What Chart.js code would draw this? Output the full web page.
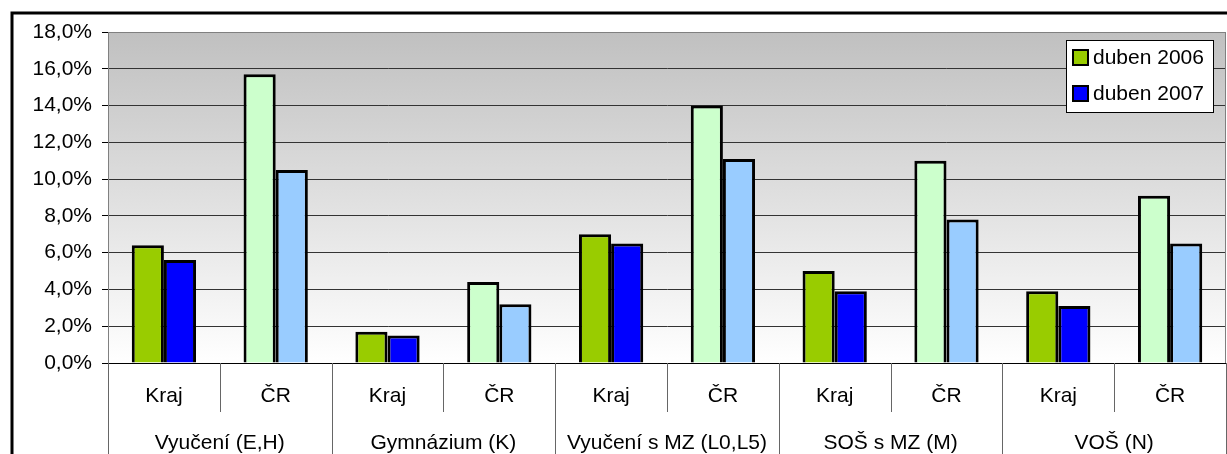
<!DOCTYPE html>
<html lang="cs">
<head>
    <meta charset="UTF-8">
    <title>Podíl nezaměstnaných absolventů</title>
    <script src="https://cdn.jsdelivr.net/npm/chart.js"></script>
    <style>
        body { margin: 0; background: #fff; }
    </style>
</head>
<body>
<canvas id="graf" width="1227" height="454"></canvas>

<script>
    // data (v %)
    const podkategorie = ['Kraj', 'ČR', 'Kraj', 'ČR', 'Kraj', 'ČR', 'Kraj', 'ČR', 'Kraj', 'ČR'];
    const skupiny = ['Vyučení (E,H)', 'Gymnázium (K)', 'Vyučení s MZ (L0,L5)', 'SOŠ s MZ (M)', 'VOŠ (N)'];
    const duben2006 = [6.4, 15.7, 1.7, 4.4, 7.0, 14.0, 5.0, 11.0, 3.9, 9.1];
    const duben2007 = [5.6, 10.5, 1.5, 3.2, 6.5, 11.1, 3.9, 7.8, 3.1, 6.5];
    const nazvyRad = ['duben 2006', 'duben 2007'];
    const barvyKraj = ['#99cc00', '#0000ff'];
    const barvyCR = ['#ccffcc', '#99ccff'];

    const pismo = '"Liberation Sans", Arial, sans-serif';

    function barvy(i) {
        return podkategorie.map(p => p === 'Kraj' ? barvyKraj[i] : barvyCR[i]);
    }

    // pozadí s přechodem, osa x se dvěma řádky popisků, legenda, rámeček
    const pozadi = {
        id: 'pozadi',
        beforeDraw(chart) {
            const { ctx, chartArea: a } = chart;
            const g = ctx.createLinearGradient(0, a.top, 0, a.bottom);
            g.addColorStop(0, '#c0c0c0');
            g.addColorStop(1, '#ffffff');
            ctx.save();
            ctx.fillStyle = g;
            ctx.fillRect(a.left, a.top, a.right - a.left, a.bottom - a.top);
            ctx.restore();
        },
        afterDraw(chart) {
            const { ctx, chartArea: a, scales } = chart;
            const x = scales.x;
            ctx.save();

            // okraj plochy grafu
            ctx.strokeStyle = '#808080';
            ctx.lineWidth = 1;
            ctx.beginPath();
            ctx.moveTo(a.left, a.top + 0.5);
            ctx.lineTo(a.right, a.top + 0.5);
            ctx.moveTo(a.right - 0.5, a.top);
            ctx.lineTo(a.right - 0.5, a.bottom);
            ctx.stroke();

            // osa x
            ctx.strokeStyle = '#000';
            ctx.beginPath();
            ctx.moveTo(a.left - 6, a.bottom + 0.5);
            ctx.lineTo(a.right, a.bottom + 0.5);
            ctx.stroke();

            const krok = (a.right - a.left) / podkategorie.length;
            ctx.strokeStyle = '#666';
            ctx.beginPath();
            for (let i = 0; i <= podkategorie.length; i++) {
                const px = Math.round(a.left + i * krok) + 0.5;
                ctx.moveTo(px, a.bottom);
                ctx.lineTo(px, i % 2 === 0 ? chart.height : a.bottom + 49);
            }
            ctx.stroke();

            ctx.fillStyle = '#000';
            ctx.font = '21px ' + pismo;
            ctx.textAlign = 'center';
            ctx.textBaseline = 'middle';
            podkategorie.forEach((p, i) => {
                ctx.fillText(p, x.getPixelForValue(i), a.bottom + 33);
            });
            skupiny.forEach((s, i) => {
                const cx = (x.getPixelForValue(2 * i) + x.getPixelForValue(2 * i + 1)) / 2;
                ctx.fillText(s, cx, a.bottom + 80);
            });

            // legenda
            const lx = 1066, ly = 40, lw = 147, lh = 72;
            ctx.fillStyle = '#fff';
            ctx.fillRect(lx, ly, lw, lh);
            ctx.strokeStyle = '#000';
            ctx.lineWidth = 1;
            ctx.strokeRect(lx + 0.5, ly + 0.5, lw, lh);
            nazvyRad.forEach((n, i) => {
                const y = ly + 10 + i * 36;
                ctx.fillStyle = barvyKraj[i];
                ctx.fillRect(lx + 7, y, 15, 15);
                ctx.strokeStyle = '#000';
                ctx.lineWidth = 2;
                ctx.strokeRect(lx + 7, y, 15, 15);
                ctx.fillStyle = '#000';
                ctx.textAlign = 'left';
                ctx.fillText(n, lx + 27, y + 8);
            });

            // vnější rámeček
            ctx.strokeStyle = '#000';
            ctx.lineWidth = 3;
            ctx.beginPath();
            ctx.moveTo(12, chart.height);
            ctx.lineTo(12, 13);
            ctx.lineTo(chart.width, 13);
            ctx.stroke();
            ctx.restore();
        }
    };

    new Chart(document.getElementById('graf'), {
        type: 'bar',
        data: {
            labels: podkategorie,
            datasets: [
                {
                    label: nazvyRad[0],
                    data: duben2006,
                    backgroundColor: barvy(0),
                    borderColor: '#000',
                    borderWidth: 3,
                    borderSkipped: 'bottom'
                },
                {
                    label: nazvyRad[1],
                    data: duben2007,
                    backgroundColor: barvy(1),
                    borderColor: '#000',
                    borderWidth: 3,
                    borderSkipped: 'bottom'
                }
            ]
        },
        options: {
            responsive: false,
            animation: false,
            layout: { padding: { left: 12, top: 32, right: 1, bottom: 91 } },
            datasets: { bar: { categoryPercentage: 0.575, barPercentage: 1.0 } },
            plugins: {
                legend: { display: false },
                tooltip: { enabled: false }
            },
            scales: {
                x: { display: false },
                y: {
                    min: 0,
                    max: 18,
                    afterFit(scale) { scale.width = 96; },
                    border: { display: true, color: '#808080' },
                    grid: {
                        color: ctx => ctx.tick && ctx.tick.value === 18 ? '#808080' : '#333',
                        tickColor: '#000',
                        tickLength: 6
                    },
                    ticks: {
                        stepSize: 2,
                        padding: 10,
                        color: '#000',
                        font: { family: pismo, size: 21 },
                        callback: v => v.toFixed(1).replace('.', ',') + '%'
                    }
                }
            }
        },
        plugins: [pozadi]
    });
</script>
</body>
</html>
